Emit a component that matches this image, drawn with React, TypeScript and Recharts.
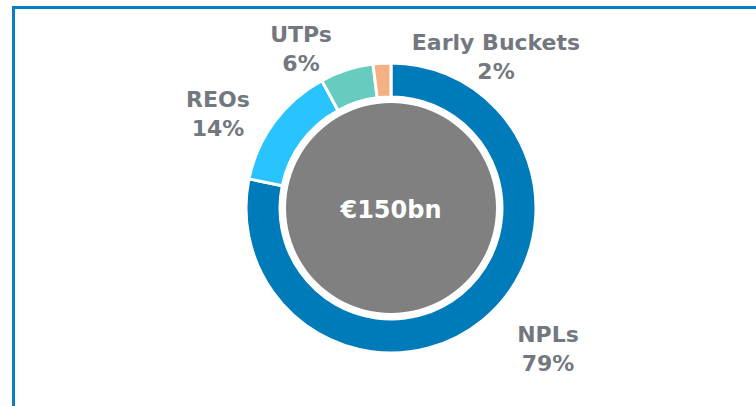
import React from "react";
import { PieChart, Pie, Cell } from "recharts";

const categories = ["NPLs", "REOs", "UTPs", "Early Buckets"];
const shares = [79, 14, 6, 2];
const totalLabel = "€150bn";

const COLORS = ["#007BBA", "#29C3FF", "#66CCBF", "#F4B183"];
const LABEL_OFFSETS: Record<string, [number, number]> = {
  "NPLs": [157, 134],
  "REOs": [-173, -101],
  "UTPs": [-90, -166],
  "Early Buckets": [105, -158],
};

const data = categories.map((name, i) => ({ name, value: shares[i] }));
const centerData = [{ name: "total", value: 1 }];

const renderLabel = (props: any) => {
  const { cx, cy, name, value } = props;
  const off = LABEL_OFFSETS[name] || [0, 0];
  const x = cx + off[0];
  const y = cy + off[1];
  return (
    <text
      x={x}
      y={y}
      textAnchor="middle"
      fill="#737880"
      fontFamily="DejaVu Sans"
      fontWeight="bold"
      fontSize={22}
    >
      <tspan x={x} y={y}>{name}</tspan>
      <tspan x={x} y={y + 29}>{value}%</tspan>
    </text>
  );
};

const renderCenter = (props: any) => {
  const { cx, cy } = props;
  return (
    <text
      x={cx}
      y={cy + 10}
      textAnchor="middle"
      fill="#FFFFFF"
      fontFamily="DejaVu Sans"
      fontWeight="bold"
      fontSize={24}
    >
      {totalLabel}
    </text>
  );
};

export default function App() {
  return (
    <div style={{ position: "absolute", left: 0, top: 0, width: 756, height: 406, overflow: "hidden", background: "#fff" }}>
      <div
        style={{
          position: "absolute",
          left: 12,
          top: 6,
          width: 800,
          height: 500,
          borderLeft: "3px solid #0A7DC2",
          borderTop: "3px solid #0A7DC2",
        }}
      />
      <div style={{ position: "absolute", left: 0, top: 0 }}>
        <PieChart width={756} height={406} margin={{ top: 0, right: 0, bottom: 0, left: 0 }}>
          <Pie
            data={centerData}
            dataKey="value"
            cx={391}
            cy={208}
            innerRadius={0}
            outerRadius={105}
            startAngle={90}
            endAngle={-270}
            stroke="none"
            fill="#808080"
            isAnimationActive={false}
            labelLine={false}
            label={renderCenter}
          />
          <Pie
            data={data}
            dataKey="value"
            nameKey="name"
            cx={391}
            cy={208}
            innerRadius={111}
            outerRadius={145}
            startAngle={90}
            endAngle={-270}
            stroke="#FFFFFF"
            strokeWidth={3}
            isAnimationActive={false}
            labelLine={false}
            label={renderLabel}
          >
            {data.map((d, i) => (
              <Cell key={d.name} fill={COLORS[i]} />
            ))}
          </Pie>
        </PieChart>
      </div>
    </div>
  );
}
